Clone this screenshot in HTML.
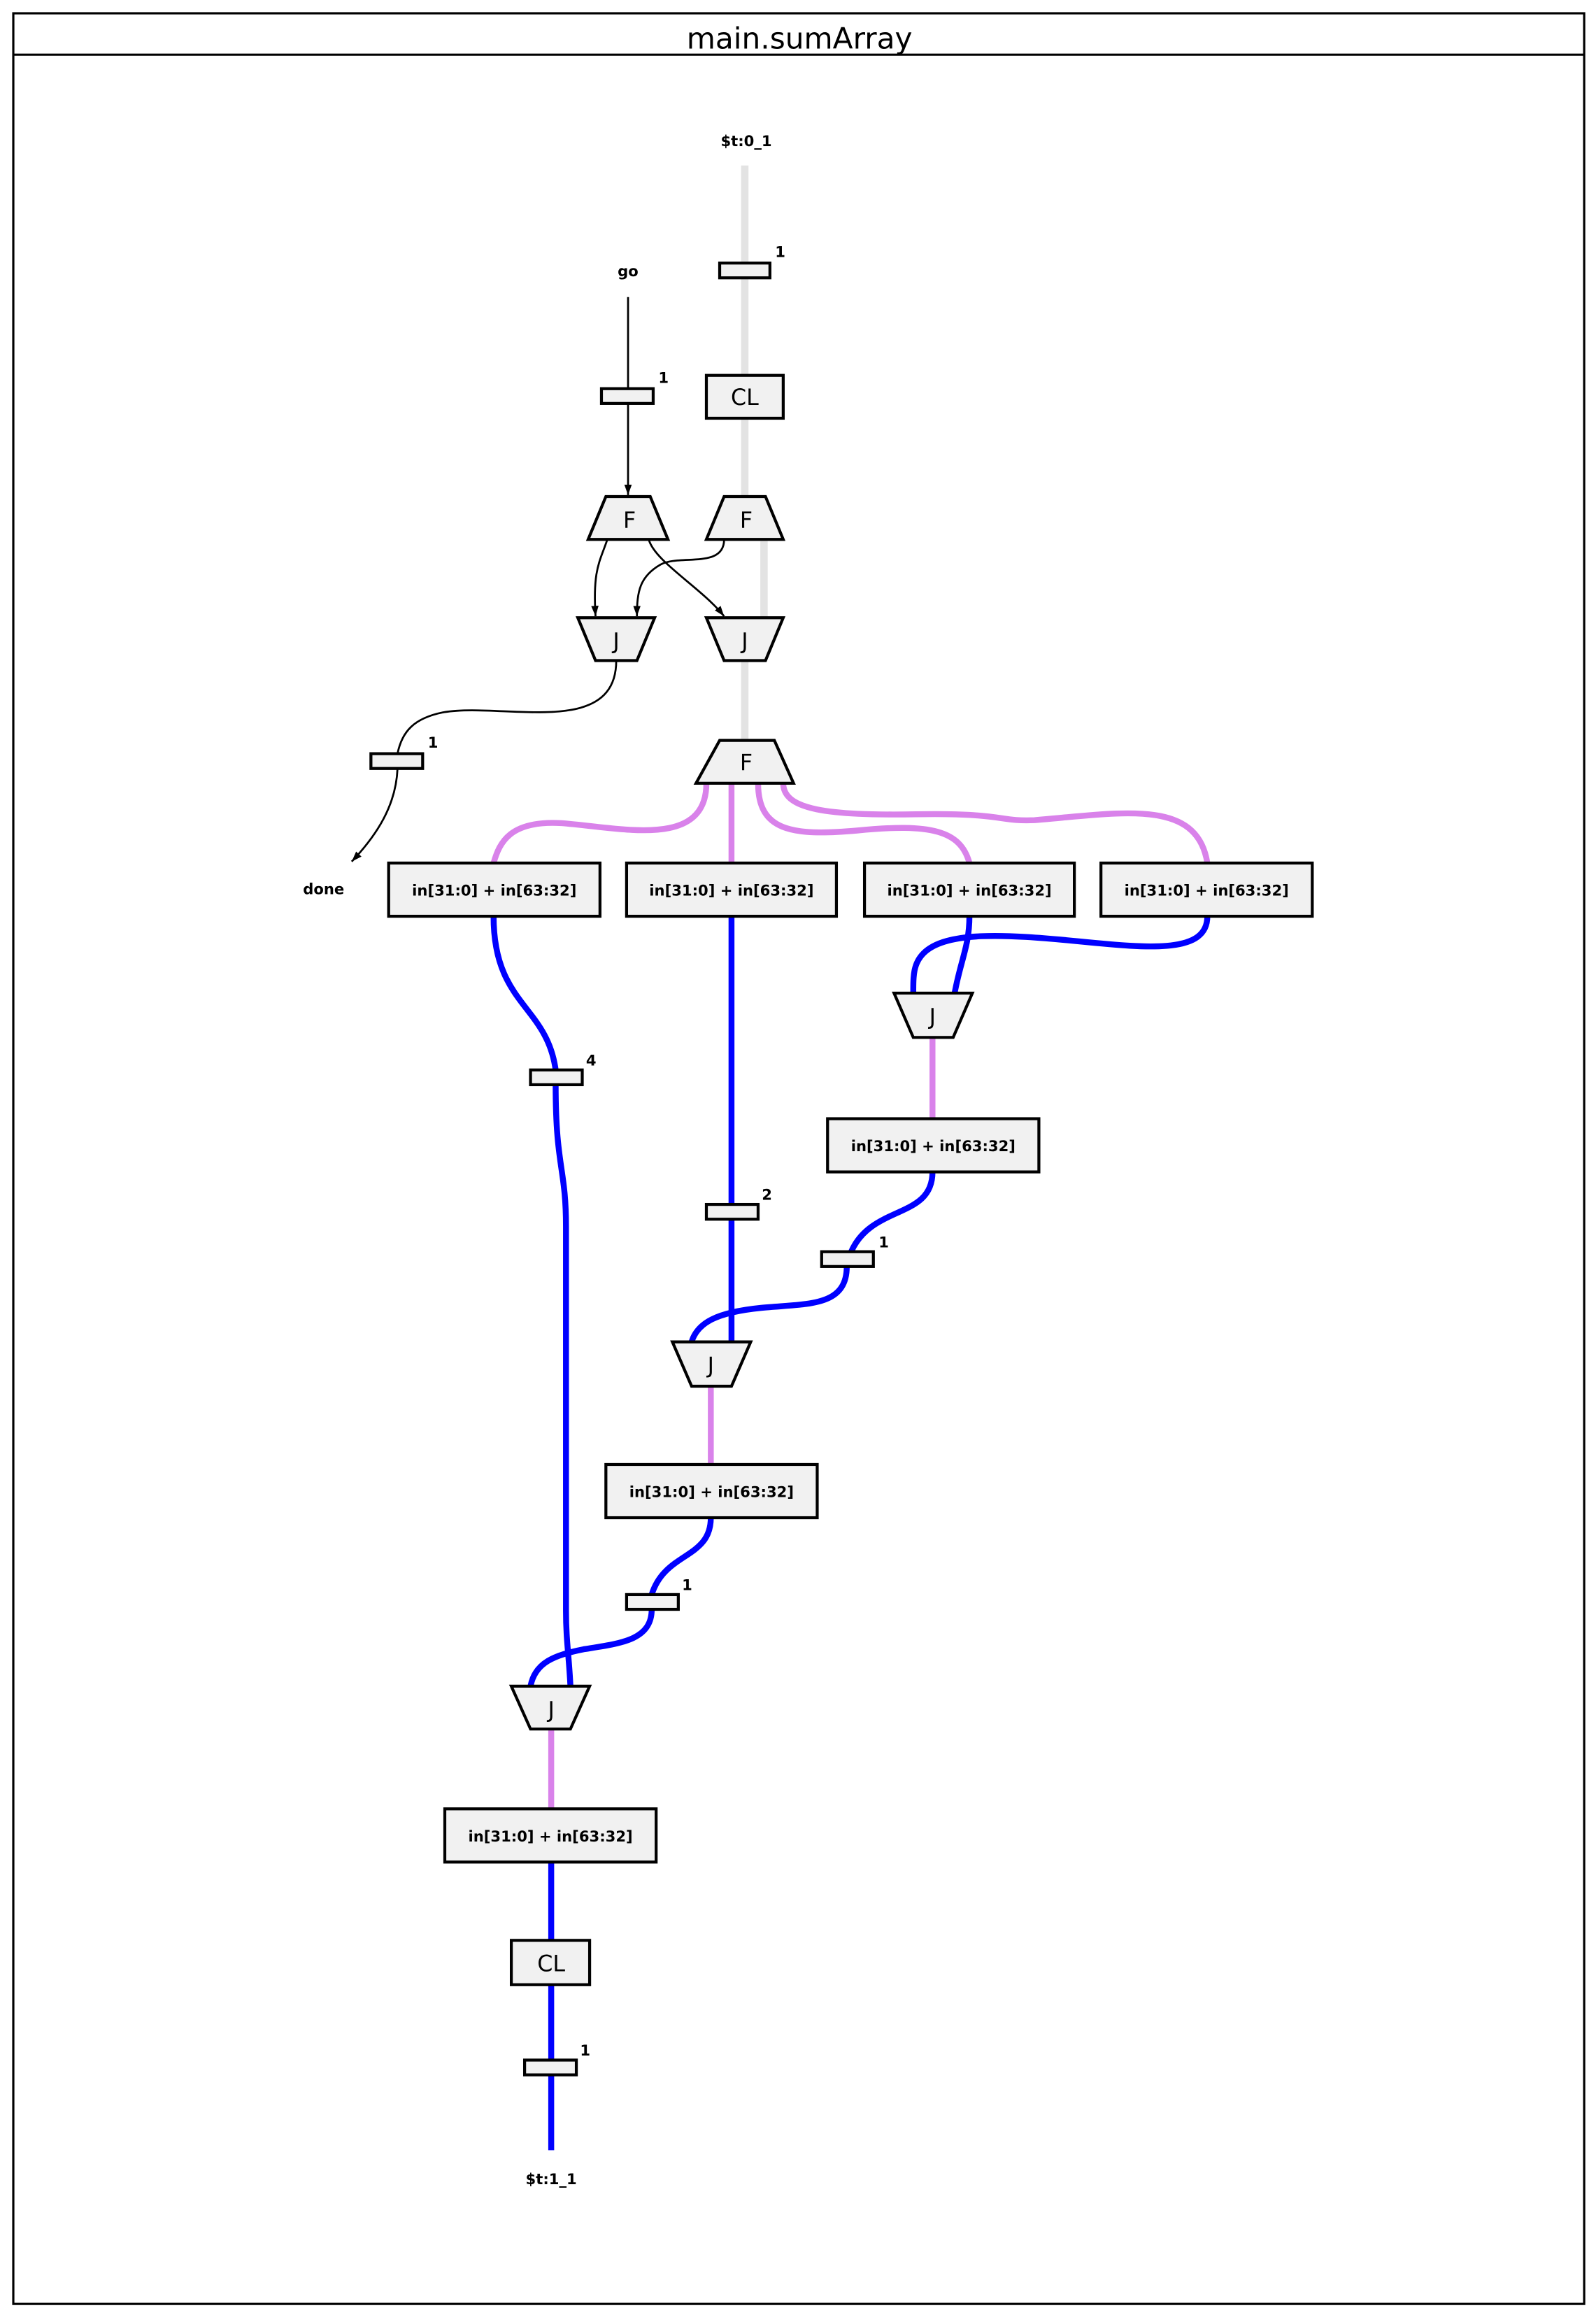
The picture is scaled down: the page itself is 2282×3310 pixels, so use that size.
<!DOCTYPE html>
<html><head><meta charset="utf-8">
<style>
html,body{margin:0;padding:0;background:#fff;}
svg{display:block;}
text{font-family:"DejaVu Sans","Liberation Sans",sans-serif;}
.lbl{font-size:10px;font-weight:bold;text-anchor:middle;}
.nd{font-size:15px;text-anchor:middle;}
.box{fill:#f1f1f1;stroke:#000;stroke-width:2;}
.gray{stroke:#e3e3e3;stroke-width:5;fill:none;}
.blk{stroke:#000;stroke-width:1.3;fill:none;}
.pur{stroke:#d982ea;stroke-width:4;fill:none;}
.blu{stroke:#0000ff;stroke-width:4;fill:none;}
</style></head>
<body>
<svg width="2282" height="3310" viewBox="0 0 1080 1566.5" preserveAspectRatio="none" xmlns="http://www.w3.org/2000/svg">
<defs>
<marker id="ar" markerWidth="8" markerHeight="8" refX="7" refY="4" orient="auto" markerUnits="userSpaceOnUse">
<path d="M0,1.5 L7,4 L0,6.5 Z" fill="#000"/>
</marker>
</defs>
<rect x="9" y="9" width="1063" height="1550" fill="#fff" stroke="#000" stroke-width="1.5"/>
<line x1="9" y1="37" x2="1072" y2="37" stroke="#000" stroke-width="1.5"/>
<text x="541" y="33" style="font-size:20px;text-anchor:middle;">main.sumArray</text>

<!-- gray lines -->
<line class="gray" x1="504" y1="112" x2="504" y2="336"/>
<line class="gray" x1="517" y1="365" x2="517" y2="418"/>
<line class="gray" x1="504" y1="447" x2="504" y2="501"/>

<!-- black edges -->
<line class="blk" x1="425" y1="201" x2="425" y2="335" marker-end="url(#ar)"/>
<path class="blk" d="M411,365 C406,380 401,385 403,417" marker-end="url(#ar)"/>
<path class="blk" d="M439,365 C443,380 475,398 490,417" marker-end="url(#ar)"/>
<path class="blk" d="M490,365 C490,385 460,375 447,382 C433,390 431,400 431,417" marker-end="url(#ar)"/>
<path class="blk" d="M417,447 C417,500 340,475 300,482 C280,486 272,495 269,510"/>
<path class="blk" d="M269,520 C268,545 255,565 238,583" marker-end="url(#ar)"/>

<!-- purple edges -->
<path class="pur" d="M478,530 C478,575 420,560 380,557 C345,555 338,570 334,584"/>
<line class="pur" x1="495" y1="530" x2="495" y2="584"/>
<path class="pur" d="M513,530 C513,562 535,566 580,562 C630,557 650,562 656,584"/>
<path class="pur" d="M530,530 C530,548 560,552 620,551 C680,550 675,556 700,555 C760,550 810,540 817,584"/>
<line class="pur" x1="631" y1="702" x2="631" y2="757"/>
<line class="pur" x1="481" y1="938" x2="481" y2="991"/>
<line class="pur" x1="373" y1="1170" x2="373" y2="1224"/>

<!-- blue edges -->
<path class="blu" d="M334,620 C334,680 370,680 376,724"/>
<path class="blu" d="M376,734 C376,790 383,790 383,830 L383,1090 C383,1110 385,1120 386,1141"/>
<line class="blu" x1="495" y1="620" x2="495" y2="908"/>
<path class="blu" d="M656,620 C656,640 650,650 646,672"/>
<path class="blu" d="M817,620 C817,645 780,642 730,637 C680,632 640,630 625,645 C618,652 618,660 618,672"/>
<path class="blu" d="M631,793 C631,825 590,815 576,847"/>
<path class="blu" d="M573,857 C573,885 545,882 515,885 C485,888 472,895 468,908"/>
<path class="blu" d="M481,1027 C481,1055 450,1050 441,1079"/>
<path class="blu" d="M441,1089 C441,1110 420,1112 395,1116 C375,1120 362,1125 359,1141"/>
<line class="blu" x1="373" y1="1260" x2="373" y2="1455"/>

<!-- registers -->
<rect class="box" x="487" y="178" width="34" height="10"/><text class="lbl" x="528" y="174">1</text>
<rect class="box" x="407" y="263" width="35" height="10"/><text class="lbl" x="449" y="259">1</text>
<rect class="box" x="251" y="510" width="35" height="10"/><text class="lbl" x="293" y="506">1</text>
<rect class="box" x="359" y="724" width="35" height="10"/><text class="lbl" x="400" y="721">4</text>
<rect class="box" x="478" y="815" width="35" height="10"/><text class="lbl" x="519" y="812">2</text>
<rect class="box" x="556" y="847" width="35" height="10"/><text class="lbl" x="598" y="844">1</text>
<rect class="box" x="424" y="1079" width="35" height="10"/><text class="lbl" x="465" y="1076">1</text>
<rect class="box" x="355" y="1394" width="35" height="10"/><text class="lbl" x="396" y="1391">1</text>

<!-- io labels -->
<text class="lbl" x="505" y="99">$t:0_1</text>
<text class="lbl" x="425" y="187">go</text>
<text class="lbl" x="219" y="605">done</text>
<text class="lbl" x="373" y="1478">$t:1_1</text>

<!-- CL -->
<rect class="box" x="478" y="254" width="52" height="29"/><text class="nd" x="504" y="274">CL</text>
<rect class="box" x="346" y="1313" width="53" height="30"/><text class="nd" x="373" y="1334">CL</text>

<!-- F nodes -->
<polygon class="box" points="410,336 440,336 452,365 398,365"/><text class="nd" x="426" y="357">F</text>
<polygon class="box" points="490,336 518,336 530,365 478,365"/><text class="nd" x="505" y="357">F</text>
<polygon class="box" points="487,501 524,501 537,530 471,530"/><text class="nd" x="505" y="521">F</text>

<!-- J nodes -->
<polygon class="box" points="391,418 443,418 431,447 403,447"/><text class="nd" x="417" y="439">J</text>
<polygon class="box" points="478,418 530,418 518,447 490,447"/><text class="nd" x="504" y="439">J</text>
<polygon class="box" points="605,672 658,672 645,702 618,702"/><text class="nd" x="631" y="693">J</text>
<polygon class="box" points="455,908 508,908 495,938 468,938"/><text class="nd" x="481" y="929">J</text>
<polygon class="box" points="346,1141 399,1141 386,1170 359,1170"/><text class="nd" x="373" y="1162">J</text>

<!-- adder boxes -->
<rect class="box" x="263" y="584" width="143" height="36"/><text class="lbl" x="334.5" y="606">in[31:0] + in[63:32]</text>
<rect class="box" x="424" y="584" width="142" height="36"/><text class="lbl" x="495" y="606">in[31:0] + in[63:32]</text>
<rect class="box" x="585" y="584" width="142" height="36"/><text class="lbl" x="656" y="606">in[31:0] + in[63:32]</text>
<rect class="box" x="745" y="584" width="143" height="36"/><text class="lbl" x="816.5" y="606">in[31:0] + in[63:32]</text>
<rect class="box" x="560" y="757" width="143" height="36"/><text class="lbl" x="631.5" y="779">in[31:0] + in[63:32]</text>
<rect class="box" x="410" y="991" width="143" height="36"/><text class="lbl" x="481.5" y="1013">in[31:0] + in[63:32]</text>
<rect class="box" x="301" y="1224" width="143" height="36"/><text class="lbl" x="372.5" y="1246">in[31:0] + in[63:32]</text>
</svg>
</body></html>
